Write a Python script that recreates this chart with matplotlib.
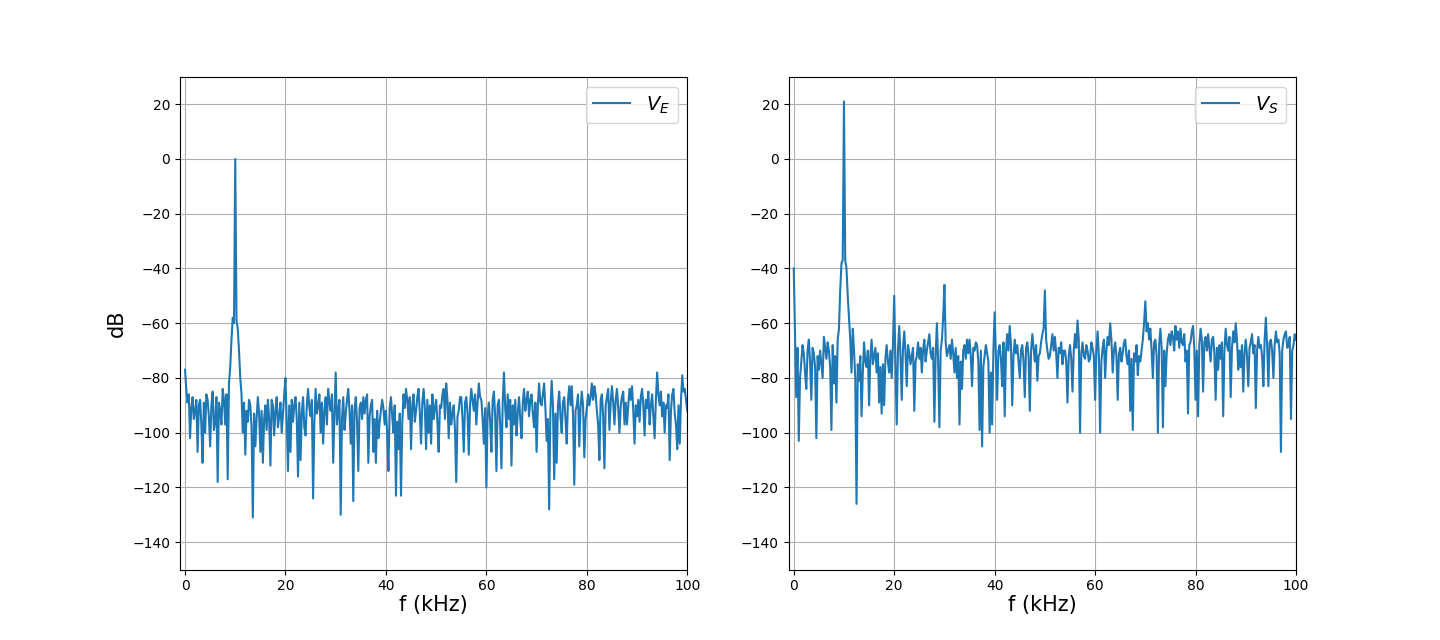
import numpy as np
import matplotlib
matplotlib.use("Agg")
import matplotlib.pyplot as plt

# frequency grid (kHz), one sample every 0.25 kHz
freq_khz = np.linspace(0, 100, 401)

# spectrum of input voltage V_E (dB), one row = 5 kHz
ve_db = [
    -77, -84, -89, -86, -102, -91, -87, -95, -92, -88, -107, -90, -88, -97, -111, -89, -100, -86, -88, -94,
    -105, -90, -85, -99, -96, -87, -118, -89, -92, -97, -84, -88, -97, -86, -117, -82, -76, -66, -58, -60,
    0, -59, -62, -70, -80, -86, -100, -89, -108, -92, -96, -88, -90, -98, -131, -93, -105, -95, -87, -93,
    -107, -92, -111, -95, -90, -99, -88, -95, -112, -88, -90, -101, -92, -87, -98, -94, -89, -100, -93, -86,
    -80, -96, -114, -90, -107, -88, -96, -90, -87, -95, -116, -89, -110, -93, -87, -98, -101, -90, -84, -91,
    -94, -88, -124, -96, -84, -93, -90, -86, -100, -89, -104, -92, -87, -97, -84, -89, -92, -86, -111, -93,
    -78, -97, -92, -88, -130, -95, -87, -99, -93, -88, -84, -92, -104, -90, -125, -92, -87, -96, -114, -91,
    -89, -95, -87, -93, -88, -86, -111, -94, -90, -88, -107, -95, -111, -92, -102, -96, -92, -88, -91, -97,
    -92, -100, -114, -91, -87, -94, -100, -90, -123, -96, -106, -93, -123, -97, -86, -91, -84, -88, -95, -87,
    -106, -90, -86, -96, -92, -87, -84, -93, -104, -89, -84, -91, -106, -88, -100, -90, -104, -86, -95, -91,
    -88, -96, -107, -90, -91, -86, -84, -95, -82, -88, -102, -89, -97, -93, -90, -99, -118, -94, -92, -87,
    -87, -95, -107, -89, -87, -93, -108, -90, -84, -88, -92, -86, -97, -89, -82, -87, -88, -95, -104, -91,
    -120, -93, -89, -96, -107, -88, -85, -94, -114, -90, -88, -97, -113, -89, -78, -91, -98, -86, -95, -88,
    -112, -90, -97, -88, -101, -93, -87, -95, -102, -89, -84, -92, -88, -85, -94, -88, -86, -93, -98, -89,
    -107, -90, -82, -89, -90, -86, -82, -91, -103, -95, -128, -92, -81, -90, -117, -93, -111, -90, -85, -94,
    -100, -89, -87, -95, -104, -88, -83, -90, -83, -93, -119, -92, -90, -86, -105, -91, -85, -90, -109, -95,
    -91, -86, -90, -87, -82, -88, -83, -86, -92, -97, -110, -88, -86, -94, -113, -90, -87, -84, -99, -89,
    -83, -89, -97, -88, -84, -91, -100, -90, -87, -85, -97, -89, -97, -90, -84, -88, -83, -92, -104, -90,
    -94, -88, -96, -87, -84, -90, -101, -88, -91, -85, -97, -90, -86, -94, -102, -88, -78, -86, -90, -85,
    -94, -89, -100, -90, -91, -86, -110, -92, -86, -84, -93, -97, -106, -90, -104, -88, -79, -85, -84, -88,
    -92,
]

# spectrum of output voltage V_S (dB), one row = 5 kHz
vs_db = [
    -40, -63, -87, -69, -103, -80, -74, -68, -71, -78, -84, -70, -66, -74, -88, -69, -71, -76, -102, -72,
    -77, -70, -75, -80, -65, -69, -73, -67, -70, -76, -99, -68, -82, -72, -89, -66, -62, -48, -38, -37,
    21, -37, -40, -50, -58, -66, -78, -62, -70, -80, -126, -75, -81, -72, -94, -78, -67, -74, -76, -70,
    -90, -72, -66, -75, -72, -69, -78, -71, -89, -76, -93, -75, -90, -73, -68, -74, -78, -70, -80, -68,
    -50, -75, -97, -70, -61, -72, -88, -69, -63, -71, -83, -68, -71, -75, -72, -69, -92, -74, -72, -67,
    -73, -69, -78, -70, -66, -74, -70, -67, -64, -71, -73, -69, -96, -72, -60, -74, -98, -70, -66, -58,
    -46, -67, -72, -70, -68, -73, -66, -71, -78, -69, -80, -72, -97, -74, -84, -70, -68, -73, -66, -71,
    -66, -72, -83, -69, -70, -67, -68, -74, -99, -70, -105, -76, -72, -68, -71, -74, -100, -78, -97, -70,
    -56, -72, -88, -70, -68, -73, -83, -67, -94, -71, -64, -70, -61, -68, -90, -72, -66, -71, -68, -74,
    -80, -70, -68, -74, -87, -69, -67, -72, -92, -70, -64, -69, -74, -68, -81, -72, -71, -67, -64, -62,
    -48, -66, -70, -73, -72, -68, -64, -70, -65, -71, -80, -69, -71, -67, -75, -70, -70, -74, -89, -72,
    -68, -73, -85, -70, -64, -69, -59, -66, -100, -71, -67, -72, -73, -68, -70, -74, -73, -67, -69, -72,
    -88, -70, -63, -72, -100, -74, -69, -66, -80, -70, -65, -68, -60, -66, -78, -70, -67, -72, -88, -71,
    -69, -74, -71, -67, -66, -72, -75, -70, -92, -73, -99, -71, -74, -68, -79, -72, -74, -70, -66, -60,
    -52, -63, -60, -66, -62, -70, -80, -67, -66, -72, -100, -68, -62, -69, -98, -70, -83, -71, -66, -64,
    -68, -63, -65, -70, -61, -66, -63, -69, -62, -67, -68, -64, -74, -70, -93, -68, -67, -63, -61, -69,
    -88, -70, -94, -68, -62, -66, -85, -67, -65, -70, -64, -69, -74, -66, -65, -71, -88, -69, -77, -68,
    -73, -67, -94, -70, -62, -68, -70, -65, -87, -69, -63, -67, -60, -66, -77, -70, -76, -68, -85, -71,
    -66, -72, -83, -69, -67, -64, -71, -68, -91, -70, -65, -69, -68, -72, -83, -66, -58, -68, -83, -67,
    -66, -70, -80, -68, -63, -67, -66, -71, -107, -70, -66, -64, -63, -69, -68, -65, -95, -70, -68, -64,
    -66,
]

series = [(ve_db, r"$V_E$"), (vs_db, r"$V_S$")]

fig, axes = plt.subplots(1, 2, figsize=(14.4, 6.4), dpi=100)

for i, (ax, (valores, rotulo)) in enumerate(zip(axes, series)):
    ax.plot(freq_khz, valores, color="#1f77b4", linewidth=1.5, label=rotulo)
    ax.set_xlim(-1, 100)
    ax.set_ylim(-150, 30)
    ax.set_yticks(np.arange(-140, 21, 20))
    ax.grid(True)
    ax.set_xlabel("f (kHz)", fontsize=15, labelpad=1)
    if i == 0:
        ax.set_ylabel("dB", fontsize=15)
    ax.legend(loc="upper right", fontsize=14, handlelength=1.9)

plt.savefig("out.png", dpi=100)
